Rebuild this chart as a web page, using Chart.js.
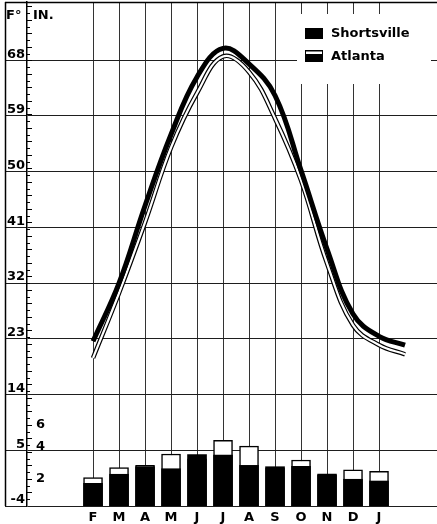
<!DOCTYPE html>
<html>
<head>
<meta charset="utf-8">
<script src="https://cdn.jsdelivr.net/npm/chart.js@4.4.1/dist/chart.umd.min.js"></script>
<style>
  body { margin: 0; background: #fff; }
  #wrap { width: 437px; height: 524px; }
</style>
</head>
<body>
<div id="wrap"><canvas id="climateChart" width="437" height="524"></canvas></div>
<script>
// months along the bottom (the curve runs on to the next February)
const months = ['F', 'M', 'A', 'M', 'J', 'J', 'A', 'S', 'O', 'N', 'D', 'J'];
const tempTicks = [-4, 5, 14, 23, 32, 41, 50, 59, 68];
const inchTicks = [2, 4, 6];

// mean temperature, deg F
const shortsvilleTemp = [22.6, 32.0, 44.5, 56.0, 65.3, 69.9, 67.4, 62.3, 50.2, 37.5, 27.0, 23.4, 22.0];
const atlantaTemp = [19.9, 30.4, 41.8, 53.9, 62.7, 68.6, 66.1, 58.6, 48.6, 35.2, 25.2, 22.0, 20.5];

// precipitation, inches
const shortsvillePrecip = [1.68, 2.35, 2.91, 2.76, 3.80, 3.78, 3.01, 2.91, 2.94, 2.30, 1.98, 1.85];
const atlantaPrecip = [2.10, 2.84, 3.01, 3.85, 3.50, 4.87, 4.44, 2.80, 3.41, 2.39, 2.67, 2.57];

const FONT = { family: '"DejaVu Sans", sans-serif', size: 13, weight: 'bold' };
const GRID = '#1e1e1e';

const pts = arr => arr.map((v, i) => ({ x: i, y: v }));

function drawChart() {
    const ctx = document.getElementById('climateChart').getContext('2d');

    const decor = {
        id: 'decor',
        afterDraw(chart) {
            const c = chart.ctx;
            const ca = chart.chartArea;
            const yS = chart.scales.y;
            const y2 = chart.scales.y2;
            c.save();
            c.strokeStyle = '#000';
            c.lineWidth = 1.5;
            // frame: left edge and top edge
            c.beginPath();
            c.moveTo(yS.left + 0.5, ca.top);
            c.lineTo(yS.left + 0.5, ca.bottom);
            c.moveTo(yS.left, ca.top + 0.5);
            c.lineTo(ca.right, ca.top + 0.5);
            c.stroke();

            // little ticks on the inch scale
            c.lineWidth = 1;
            c.beginPath();
            for (let v = 0.5; v < y2.max; v += 0.5) {
                const py = Math.round(y2.getPixelForValue(v)) + 0.5;
                const len = (v % 1 === 0) ? 5 : 3;
                c.moveTo(ca.left, py);
                c.lineTo(ca.left + len, py);
            }
            c.stroke();

            c.fillStyle = '#000';
            c.font = 'bold 13px "DejaVu Sans", sans-serif';
            c.textBaseline = 'middle';
            c.textAlign = 'left';
            inchTicks.forEach(v => {
                const py = y2.getPixelForValue(v);
                c.fillText(String(v), ca.left + 9, v === 4 ? py - 5 : py);
            });

            // axis headings
            c.fillText('F\u00B0', yS.left + 1, ca.top + 14);
            c.fillText('IN.', ca.left + 6, ca.top + 14);

            // legend
            const lx = ca.right - 140;
            const ly = ca.top + 12;
            c.fillStyle = '#fff';
            c.fillRect(lx, ly, 134, 70);
            c.fillStyle = '#000';
            c.fillRect(lx + 8, ly + 14, 18, 11);
            c.fillRect(lx + 8, ly + 36, 18, 12);
            c.fillStyle = '#fff';
            c.fillRect(lx + 9, ly + 37.5, 16, 2.5);
            c.fillStyle = '#000';
            c.fillText('Shortsville', lx + 34, ly + 20);
            c.fillText('Atlanta', lx + 34, ly + 43);
            c.restore();
        }
    };

    new Chart(ctx, {
        data: {
            datasets: [
                {
                    type: 'line',
                    label: 'Shortsville',
                    data: pts(shortsvilleTemp),
                    yAxisID: 'y',
                    borderColor: '#000',
                    borderWidth: 5,
                    pointRadius: 0,
                    tension: 0.4,
                    order: 0
                },
                {
                    type: 'line',
                    label: 'Atlanta',
                    data: pts(atlantaTemp),
                    yAxisID: 'y',
                    borderColor: '#fff',
                    borderWidth: 2.2,
                    pointRadius: 0,
                    tension: 0.4,
                    order: 1
                },
                {
                    type: 'line',
                    label: 'Atlanta outline',
                    data: pts(atlantaTemp),
                    yAxisID: 'y',
                    borderColor: '#000',
                    borderWidth: 4.6,
                    pointRadius: 0,
                    tension: 0.4,
                    order: 2
                },
                {
                    type: 'bar',
                    label: 'Shortsville',
                    data: pts(shortsvillePrecip),
                    yAxisID: 'y2',
                    backgroundColor: '#000',
                    borderWidth: 0,
                    barThickness: 19,
                    grouped: false,
                    order: 3
                },
                {
                    type: 'bar',
                    label: 'Atlanta',
                    data: pts(atlantaPrecip),
                    yAxisID: 'y2',
                    backgroundColor: '#fff',
                    borderColor: '#000',
                    borderWidth: 1.5,
                    barThickness: 19,
                    grouped: false,
                    order: 4
                }
            ]
        },
        options: {
            responsive: false,
            animation: false,
            devicePixelRatio: 1,
            layout: { padding: { left: 5, top: 2, right: 0, bottom: 0 } },
            scales: {
                x: {
                    type: 'linear',
                    min: -2.54,
                    max: 13.23,
                    offset: false,
                    afterBuildTicks: s => { s.ticks = months.map((m, i) => ({ value: i })); },
                    afterFit: s => { s.height = 18; },
                    ticks: {
                        callback: v => months[v] ?? '',
                        autoSkip: false,
                        maxRotation: 0,
                        padding: 4,
                        color: '#000',
                        font: FONT
                    },
                    grid: { color: '#333', lineWidth: 1, drawTicks: false, offset: false },
                    border: { display: false }
                },
                y: {
                    type: 'linear',
                    position: 'left',
                    min: -4,
                    max: 77.4,
                    afterBuildTicks: s => { s.ticks = tempTicks.map(v => ({ value: v })); },
                    afterFit: s => { s.width = 22; },
                    ticks: {
                        callback: v => String(v),
                        color: '#000',
                        font: FONT,
                        padding: -20,
                        labelOffset: -6
                    },
                    grid: { color: GRID, lineWidth: 1, drawTicks: true, tickLength: 22 },
                    border: { color: '#000', width: 1.5 }
                },
                y2: {
                    type: 'linear',
                    display: false,
                    min: 0,
                    max: 37.33
                }
            },
            plugins: {
                legend: { display: false },
                tooltip: { enabled: false }
            }
        },
        plugins: [decor]
    });
}

drawChart();
</script>
</body>
</html>
